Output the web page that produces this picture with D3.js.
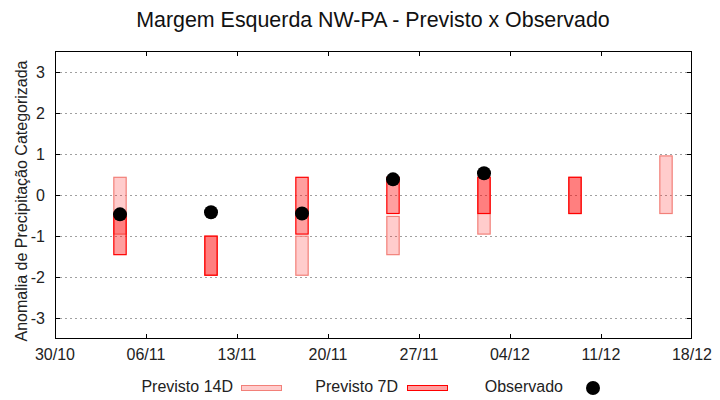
<!DOCTYPE html>
<html lang="pt">
<head>
    <meta charset="UTF-8">
    <script src="https://d3js.org/d3.v7.min.js"></script>
    <style>
        body { margin: 0; background: #fff; }
        svg { font-family: "Liberation Sans", Arial, sans-serif; }
    </style>
</head>
<body>
    <div id="chart"></div>
    <script>
        // data
        var dates = ["2023-11-04", "2023-11-11", "2023-11-18", "2023-11-25", "2023-12-02", "2023-12-09", "2023-12-16"];
        var prev14Low  = [-0.95, -1.95, -1.95, -1.45, -0.95, -0.45, -0.45];
        var prev14High = [ 0.43, -1.00, -1.00, -0.52,  0.43,  0.43,  0.95];
        var prev7Low   = [-1.45, -1.95, -0.95, -0.45, -0.45, -0.45, null];
        var prev7High  = [-0.45, -1.00,  0.43,  0.43,  0.43,  0.43, null];
        var observed   = [-0.47, -0.42, -0.45,  0.38,  0.53, null, null];
        var xTicks = ["2023-10-30", "2023-11-06", "2023-11-13", "2023-11-20", "2023-11-27", "2023-12-04", "2023-12-11", "2023-12-18"];
        var yTicks = [-3, -2, -1, 0, 1, 2, 3];

        var W = 720, H = 400;
        var margin = { top: 51, right: 28, bottom: 61, left: 55 };

        var parse = d3.utcParse("%Y-%m-%d");
        var fmt = d3.utcFormat("%d/%m");

        var svg = d3.select("#chart").append("svg")
            .attr("width", W).attr("height", H);

        var x = d3.scaleUtc()
            .domain([parse(xTicks[0]), parse(xTicks[xTicks.length - 1])])
            .range([margin.left, W - margin.right]);
        var y = d3.scaleLinear()
            .domain([-3.5, 3.5])
            .range([H - margin.bottom, margin.top]);

        // horizontal grid
        svg.append("g").selectAll("line")
            .data(yTicks).enter().append("line")
            .attr("x1", margin.left).attr("x2", W - margin.right)
            .attr("y1", d => Math.round(y(d)) + 0.5).attr("y2", d => Math.round(y(d)) + 0.5)
            .attr("stroke", "#a0a0a0")
            .attr("stroke-dasharray", "2,3");

        var halfDay = 0.475 * 864e5;
        function boxes(cls, lows, highs, fill, op, stroke) {
            var rows = dates.map((d, i) => ({ d: parse(d), lo: lows[i], hi: highs[i] }))
                .filter(r => r.lo !== null);
            svg.append("g").selectAll("rect")
                .data(rows).enter().append("rect")
                .attr("class", cls)
                .attr("x", r => x(new Date(+r.d - halfDay)))
                .attr("width", r => x(new Date(+r.d + halfDay)) - x(new Date(+r.d - halfDay)))
                .attr("y", r => y(r.hi))
                .attr("height", r => y(r.lo) - y(r.hi))
                .attr("fill", fill)
                .attr("fill-opacity", op)
                .attr("stroke", stroke)
                .attr("stroke-width", 1.2);
        }
        boxes("p14", prev14Low, prev14High, "#ff0000", 0.2, "#f28079");
        boxes("p7", prev7Low, prev7High, "#ff0000", 0.375, "#ff0000");

        // observed points
        svg.append("g").selectAll("circle")
            .data(dates.map((d, i) => ({ d: parse(d), v: observed[i] })).filter(r => r.v !== null))
            .enter().append("circle")
            .attr("cx", r => x(r.d))
            .attr("cy", r => y(r.v))
            .attr("r", 7)
            .attr("fill", "#000");

        // frame
        svg.append("rect")
            .attr("x", margin.left + 0.5).attr("y", margin.top + 0.5)
            .attr("width", W - margin.left - margin.right - 1)
            .attr("height", H - margin.top - margin.bottom - 1)
            .attr("fill", "none").attr("stroke", "#000");

        // axes with inward, mirrored ticks
        var tl = 5;
        var xt = xTicks.map(parse);
        svg.append("g").selectAll("line.xb")
            .data(xt.slice(1, -1)).enter().append("line")
            .attr("x1", d => Math.round(x(d)) + 0.5).attr("x2", d => Math.round(x(d)) + 0.5)
            .attr("y1", H - margin.bottom).attr("y2", H - margin.bottom - tl)
            .attr("stroke", "#000");
        svg.append("g").selectAll("line.xt")
            .data(xt.slice(1, -1)).enter().append("line")
            .attr("x1", d => Math.round(x(d)) + 0.5).attr("x2", d => Math.round(x(d)) + 0.5)
            .attr("y1", margin.top).attr("y2", margin.top + tl)
            .attr("stroke", "#000");
        svg.append("g").selectAll("line.yl")
            .data(yTicks).enter().append("line")
            .attr("x1", margin.left).attr("x2", margin.left + tl)
            .attr("y1", d => Math.round(y(d)) + 0.5).attr("y2", d => Math.round(y(d)) + 0.5)
            .attr("stroke", "#000");
        svg.append("g").selectAll("line.yr")
            .data(yTicks).enter().append("line")
            .attr("x1", W - margin.right).attr("x2", W - margin.right - tl)
            .attr("y1", d => Math.round(y(d)) + 0.5).attr("y2", d => Math.round(y(d)) + 0.5)
            .attr("stroke", "#000");

        svg.append("g").selectAll("text")
            .data(xt).enter().append("text")
            .attr("x", d => x(d)).attr("y", H - margin.bottom + 21)
            .attr("text-anchor", "middle")
            .attr("font-size", 16).attr("fill", "#222")
            .text(d => fmt(d));
        svg.append("g").selectAll("text")
            .data(yTicks).enter().append("text")
            .attr("x", margin.left - 10).attr("y", d => y(d) + 6)
            .attr("text-anchor", "end")
            .attr("font-size", 16).attr("fill", "#222")
            .text(d => d);

        // title and axis label
        svg.append("text")
            .attr("x", 373).attr("y", 27)
            .attr("text-anchor", "middle")
            .attr("font-size", 21.4).attr("fill", "#111")
            .text("Margem Esquerda NW-PA - Previsto x Observado");
        svg.append("text")
            .attr("transform", "translate(27,201) rotate(-90)")
            .attr("text-anchor", "middle")
            .attr("font-size", 16).attr("fill", "#222")
            .text("Anomalia de Precipitação Categorizada");

        // legend
        var lg = svg.append("g").attr("font-size", 16).attr("fill", "#222");
        lg.append("text").attr("x", 233).attr("y", 392).attr("text-anchor", "end").text("Previsto 14D");
        lg.append("rect").attr("x", 241.5).attr("y", 385.5).attr("width", 40).attr("height", 5)
            .attr("fill", "#ffcccc").attr("stroke", "#f28079");
        lg.append("text").attr("x", 398).attr("y", 392).attr("text-anchor", "end").text("Previsto 7D");
        lg.append("rect").attr("x", 407.5).attr("y", 385.5).attr("width", 40).attr("height", 5)
            .attr("fill", "#ff9f9f").attr("stroke", "#ff0000");
        lg.append("text").attr("x", 563).attr("y", 392).attr("text-anchor", "end").text("Observado");
        lg.append("circle").attr("cx", 593).attr("cy", 388).attr("r", 7).attr("fill", "#000");
    </script>
</body>
</html>
